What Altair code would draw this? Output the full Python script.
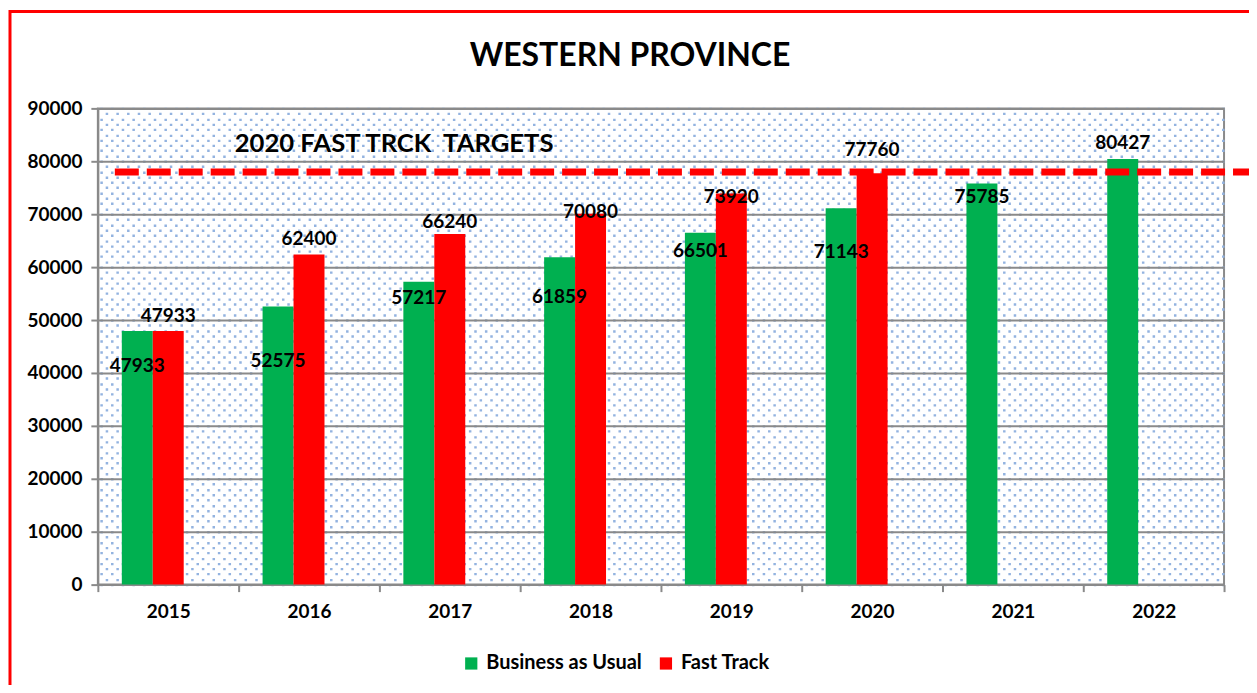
import altair as alt
import pandas as pd

# ---- data ----
chart_title = ["WESTERN PROVINCE"]
years = ["2015", "2016", "2017", "2018", "2019", "2020", "2021", "2022"]
series = ["Business as Usual", "Fast Track"]
business_as_usual = [47933, 52575, 57217, 61859, 66501, 71143, 75785, 80427]
fast_track = [47933, 62400, 66240, 70080, 73920, 77760, None, None]
# where each value label sits (in data units, as placed in the reference)
bau_label_pos = [41300, 42300, 54150, 54350, 63000, 62800, 73200, 83400]
fast_label_pos = [50750, 65300, 68500, 70400, 73200, 82100, None, None]
target_value = [78000]
target_text = ["2020 FAST TRCK\u00a0\u00a0TARGETS"]
target_text_pos = [83200]
y_ticks = [0, 10000, 20000, 30000, 40000, 50000, 60000, 70000, 80000, 90000]
colors = ["#00B050", "#FF0000"]
offset_slots = series + ["(empty slot)"]

# decorative dotted-pattern rows (background texture only)
dot_rows_a = list(range(0, 90001, 2000))
dot_rows_b = list(range(1000, 90001, 2000))

rows = []
for i, yr in enumerate(years):
    rows.append({"year": yr, "series": series[0], "value": business_as_usual[i],
                 "label_pos": bau_label_pos[i]})
    if fast_track[i] is not None:
        rows.append({"year": yr, "series": series[1], "value": fast_track[i],
                     "label_pos": fast_label_pos[i]})
df = pd.DataFrame(rows)

FONT = "Lato"
GRAY = "#8a8a8a"


def yscale():
    return alt.Scale(domain=[0, 90000], nice=False, zero=True)


x_enc = alt.X(
    "year:N", sort=years,
    scale=alt.Scale(paddingInner=0, paddingOuter=0),
    axis=alt.Axis(title=None, labelAngle=0, tickBand="extent", labelFont=FONT,
                  labelFontSize=19, labelFontWeight="bold", labelColor="black",
                  tickColor=GRAY, tickSize=7, tickWidth=2, domainColor=GRAY,
                  domainWidth=2, labelPadding=11, grid=False),
)
xo_enc = alt.XOffset(
    "series:N",
    scale=alt.Scale(domain=offset_slots, paddingInner=0, paddingOuter=0.774),
)

base = alt.Chart(df)


def dots(rows_vals, offset):
    return base.mark_point(opacity=0).encode(
        y=alt.Y("value:Q", scale=yscale(),
                axis=alt.Axis(orient="right", values=rows_vals, grid=True,
                              gridDash=[2.5, 8.2], gridDashOffset=offset,
                              gridColor="#93B3E0", gridWidth=2.4, labels=False,
                              ticks=False, domain=False, title=None))
    )


dots_a = dots(dot_rows_a, 0)
dots_b = dots(dot_rows_b, 5.35)

bars = base.mark_bar().encode(
    x=x_enc,
    xOffset=xo_enc,
    y=alt.Y("value:Q", scale=yscale(),
            axis=alt.Axis(orient="left", title=None, values=y_ticks, format="d",
                          labelFont=FONT, labelFontSize=19, labelFontWeight="bold",
                          labelColor="black", grid=True, gridColor=GRAY, gridWidth=2,
                          domainColor=GRAY, domainWidth=2, tickColor=GRAY,
                          tickWidth=2, tickSize=7, labelPadding=9)),
    color=alt.Color("series:N", sort=series,
                    scale=alt.Scale(domain=series, range=colors),
                    legend=alt.Legend(title=None, orient="none", legendX=364,
                                      legendY=546, direction="horizontal",
                                      symbolType="square", symbolSize=150,
                                      symbolStrokeWidth=0, labelFont=FONT,
                                      labelFontSize=20, labelFontWeight="bold",
                                      labelColor="black", columnPadding=14,
                                      labelOffset=5)),
)

labels = base.mark_text(font=FONT, fontSize=19, fontWeight="bold",
                        baseline="middle", color="black").encode(
    x=x_enc,
    xOffset=xo_enc,
    y=alt.Y("label_pos:Q", scale=yscale(), axis=None),
    text=alt.Text("value:Q", format="d"),
)

target = alt.Chart(pd.DataFrame({"target": target_value})).mark_rule(
    color="#FF0000", strokeWidth=7, strokeDash=[24, 8]
).encode(
    y=alt.Y("target:Q", scale=yscale(), axis=None),
    x=alt.value(17),
    x2=alt.value(1160),
)

target_label = alt.Chart(pd.DataFrame({"t": target_text, "p": target_text_pos})).mark_text(
    font=FONT, fontSize=25.7, fontWeight="bold", align="left", baseline="middle",
    color="black"
).encode(
    y=alt.Y("p:Q", scale=yscale(), axis=None),
    x=alt.value(137),
    text="t:N",
)

title_mark = alt.Chart(pd.DataFrame({"t": chart_title})).mark_text(
    font=FONT, fontSize=32, fontWeight="bold", align="center", baseline="middle",
    color="black"
).encode(
    x=alt.value(533),
    y=alt.value(-52),
    text="t:N",
)

border = alt.Chart(pd.DataFrame({"b": [0]})).mark_rect(
    fillOpacity=0, stroke="#FF0000", strokeWidth=3
).encode(
    x=alt.value(-88), x2=alt.value(1157), y=alt.value(-97), y2=alt.value(640)
)

chart = alt.layer(
    dots_a, dots_b, bars, labels, target, target_label, title_mark, border
).resolve_scale(y="independent").properties(
    width=1128,
    height=477,
    autosize=alt.AutoSizeParams(type="none"),
    padding={"left": 90, "top": 100, "right": 25, "bottom": 100},
).configure_view(
    fill="white", stroke=GRAY, strokeWidth=2
)

chart.save("out.html", embed_options={"renderer": "svg", "actions": False})
